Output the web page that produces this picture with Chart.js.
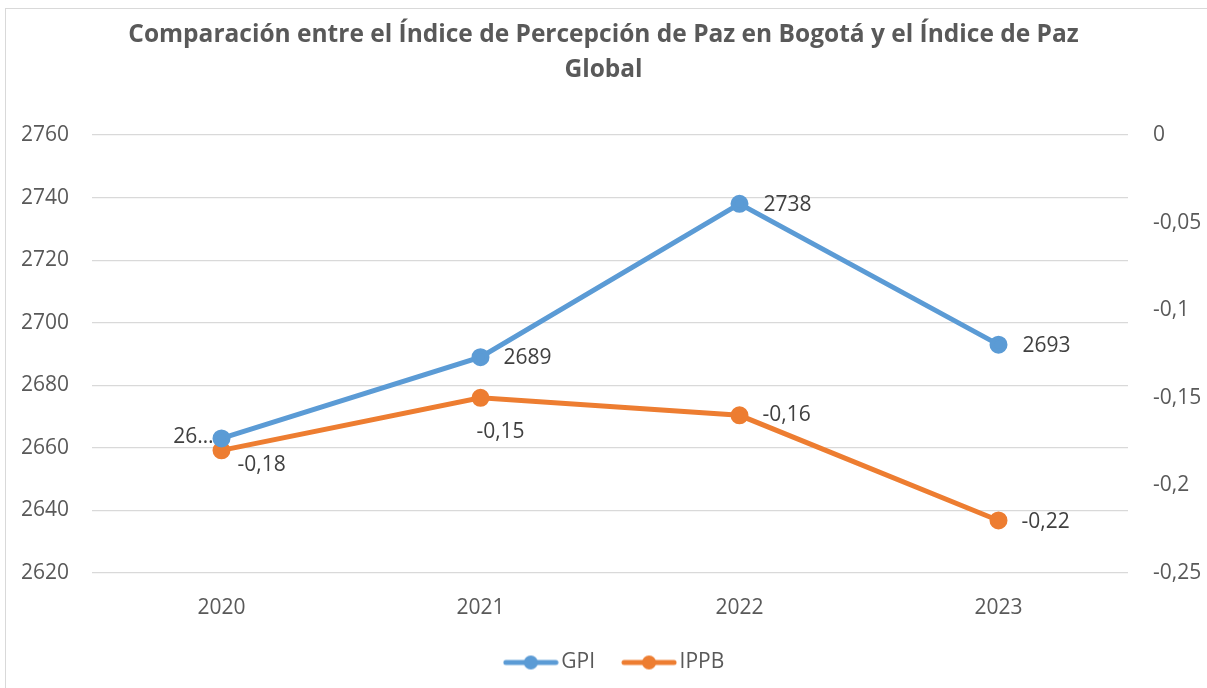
<!DOCTYPE html>
<html>
<head>
<meta charset="utf-8">
<script src="https://cdn.jsdelivr.net/npm/chart.js@4.4.0/dist/chart.umd.min.js"></script>
<style>
  body { margin: 0; background: #fff; }
  #frame { position: absolute; left: 5px; top: 8px; width: 1220px; height: 700px; border-top: 1px solid #d9d9d9; border-left: 1px solid #d9d9d9; }
  #wrap { position: absolute; left: 0; top: 0; width: 1207px; height: 688px; }
</style>
</head>
<body>
<div id="frame"></div>
<div id="wrap"><canvas id="chart" width="1207" height="688"></canvas></div>
<script>
// datos
const years = ['2020', '2021', '2022', '2023'];
const gpiValues = [2663, 2689, 2738, 2693];
const ippbValues = [-0.18, -0.15, -0.16, -0.22];
const gpiLabels = ['26…', '2689', '2738', '2693'];
const ippbLabels = ['-0,18', '-0,15', '-0,16', '-0,22'];
const leftTicks = [2620, 2640, 2660, 2680, 2700, 2720, 2740, 2760];
const rightTicks = ['-0,25', '-0,2', '-0,15', '-0,1', '-0,05', '0'];

const FONT = "'Open Sans', 'Noto Sans', sans-serif";
const BLUE = '#5B9BD5';
const ORANGE = '#ED7D31';

// marcador de leyenda: linea con circulo
function legendMarker(color) {
    const c = document.createElement('canvas');
    c.width = 56; c.height = 16;
    const g = c.getContext('2d');
    g.strokeStyle = color; g.lineWidth = 5; g.lineCap = 'round';
    g.beginPath(); g.moveTo(3, 8); g.lineTo(53, 8); g.stroke();
    g.fillStyle = color;
    g.beginPath(); g.arc(28, 8, 7, 0, Math.PI * 2); g.fill();
    return c;
}

// etiquetas de datos (posición relativa al punto)
const labelPos = [
    [{ dx: -8, dy: -1, align: 'right' }, { dx: 23, dy: 1, align: 'left' }, { dx: 24, dy: 1, align: 'left' }, { dx: 24, dy: 1, align: 'left' }],
    [{ dx: 16, dy: 15, align: 'left' }, { dx: 20, dy: 34, align: 'center' }, { dx: 23, dy: 0, align: 'left' }, { dx: 23, dy: 2, align: 'left' }]
];
const dataLabels = {
    id: 'dataLabels',
    afterLayout(chart) {
        // la leyenda de Excel queda un poco a la derecha
        if (chart.legend) { chart.legend.left += 14; chart.legend.right += 14; }
    },
    afterDatasetsDraw(chart) {
        const ctx = chart.ctx;
        const texts = [gpiLabels, ippbLabels];
        ctx.save();
        ctx.font = '21px ' + FONT;
        ctx.fillStyle = '#404040';
        ctx.textBaseline = 'middle';
        chart.data.datasets.forEach((ds, i) => {
            chart.getDatasetMeta(i).data.forEach((pt, j) => {
                const p = labelPos[i][j];
                ctx.textAlign = p.align;
                ctx.fillText(texts[i][j], pt.x + p.dx, pt.y + p.dy);
            });
        });
        ctx.restore();
    }
};

new Chart(document.getElementById('chart'), {
    type: 'line',
    data: {
        labels: years,
        datasets: [
            { label: 'GPI', data: gpiValues, yAxisID: 'y', borderColor: BLUE, backgroundColor: BLUE, borderWidth: 5, pointRadius: 6.5, pointHoverRadius: 6.5, pointStyle: 'circle', tension: 0 },
            { label: 'IPPB', data: ippbValues, yAxisID: 'y1', borderColor: ORANGE, backgroundColor: ORANGE, borderWidth: 5, pointRadius: 6.5, pointHoverRadius: 6.5, pointStyle: 'circle', tension: 0 }
        ]
    },
    options: {
        responsive: false,
        animation: false,
        layout: { padding: { left: 0, right: 0, top: 0, bottom: 5 } },
        scales: {
            x: {
                offset: true,
                grid: { display: false },
                border: { display: false },
                ticks: { color: '#595959', font: { family: FONT, size: 21 }, padding: 14 },
                afterFit: s => { s.height = 45; }
            },
            y: {
                position: 'left',
                min: 2620, max: 2760,
                afterBuildTicks: s => { s.ticks = leftTicks.map(v => ({ value: v })); },
                grid: { color: '#d9d9d9', lineWidth: 1.3, drawTicks: false },
                border: { display: false },
                ticks: { color: '#595959', font: { family: FONT, size: 21 }, padding: 23, callback: v => String(v) },
                afterFit: s => { s.width = 92; }
            },
            y1: {
                position: 'right',
                min: -0.25, max: 0,
                afterBuildTicks: s => { s.ticks = rightTicks.map((t, i) => ({ value: -0.25 + i * 0.05 })); },
                grid: { display: false },
                border: { display: false },
                ticks: { color: '#595959', font: { family: FONT, size: 21 }, padding: 17, callback: (v, i) => rightTicks[i] },
                afterFit: s => { s.width = 79; }
            }
        },
        plugins: {
            title: {
                display: true,
                text: ['Comparación entre el Índice de Percepción de Paz en Bogotá y el Índice de Paz', 'Global'],
                color: '#595959',
                font: { family: FONT, size: 24.5, weight: 'bold', lineHeight: 1.45 },
                padding: { top: 17, bottom: 47 }
            },
            legend: {
                position: 'bottom',
                labels: {
                    color: '#595959',
                    font: { family: FONT, size: 21 },
                    usePointStyle: true,
                    pointStyleWidth: 40,
                    padding: 34,
                    generateLabels: chart => chart.data.datasets.map((ds, i) => ({
                        text: ds.label, pointStyle: legendMarker(ds.borderColor), fontColor: '#595959',
                        strokeStyle: ds.borderColor, fillStyle: ds.borderColor, lineWidth: 0, datasetIndex: i
                    }))
                }
            },
            tooltip: { enabled: false }
        }
    },
    plugins: [dataLabels]
});
</script>
</body>
</html>
